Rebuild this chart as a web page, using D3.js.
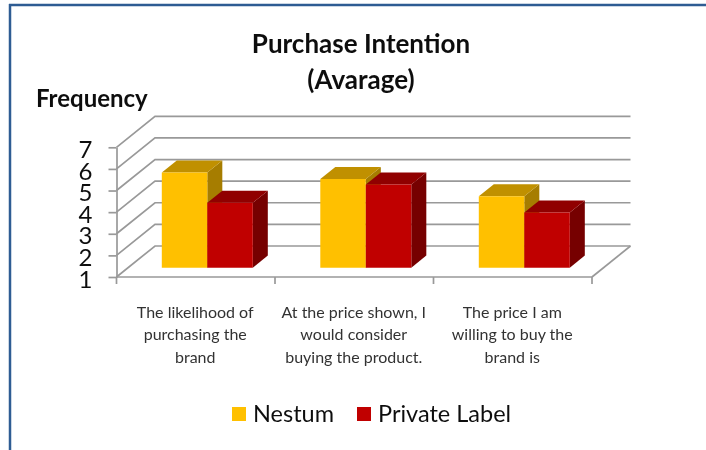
<!DOCTYPE html>
<html>
<head>
<meta charset="utf-8">
<script src="https://cdn.jsdelivr.net/npm/d3@7"></script>
<style>
  html, body { margin: 0; padding: 0; background: white; }
  text { font-family: Lato, "Open Sans", sans-serif; }
</style>
</head>
<body>
<div id="chart"></div>
<script>
// chart data
const categories = ["likelihood", "shown", "willing"];
const category_labels = [
    ["The likelihood of", "purchasing the", "brand"],
    ["At the price shown, I", "would consider", "buying the product."],
    ["The price I am", "willing to buy the", "brand is"]
];
const series_names = ["Nestum", "Private Label"];
const nestum_values = [5.4, 5.1, 4.3];
const private_label_values = [4.0, 4.85, 3.55];
const y_ticks = [1, 2, 3, 4, 5, 6, 7];

const series_values = [nestum_values, private_label_values];
const front_colors = ["#ffc000", "#c00000"];
const top_colors = ["#c09000", "#900000"];
const side_colors = ["#a67d00", "#760000"];

const width = 706;
const height = 450;

const svg = d3.select("#chart")
    .append("svg")
    .attr("width", width)
    .attr("height", height)
    .style("display", "block");

// the source picture is a soft scan, a small blur gets the same look
svg.append("defs").append("filter")
    .attr("id", "soft")
    .attr("x", 0).attr("y", 0).attr("width", 1).attr("height", 1)
    .attr("filterUnits", "objectBoundingBox")
    .append("feGaussianBlur")
    .attr("stdDeviation", 0.5);

const root = svg.append("g").attr("filter", "url(#soft)");

// keeps the filter region on the full picture
root.append("rect")
    .attr("width", width).attr("height", height)
    .attr("fill", "white");

// scales for the front plane of the 3d box
const x = d3.scaleBand()
    .domain(categories)
    .range([116.5, 592]);

const y = d3.scaleLinear()
    .domain([1, 7])
    .range([277, 147.3]);

// depth runs from front (0) to back wall (1)
const depth_x = d3.scaleLinear().domain([0, 1]).range([0, 38.5]);
const depth_y = d3.scaleLinear().domain([0, 1]).range([0, -31]);

const bar_x = d3.scaleBand()
    .domain(d3.range(series_names.length))
    .range([-45.5, 45.5]);

const project = (px, value, depth) => [px + depth_x(depth), y(value) + depth_y(depth)];
const poly = points => d3.line()(points) + "Z";

// frame around the slide
root.append("line")
    .attr("x1", 10).attr("x2", 10)
    .attr("y1", 4).attr("y2", height)
    .attr("stroke", "#2f5b93").attr("stroke-width", 2.5);
root.append("line")
    .attr("x1", 9).attr("x2", width)
    .attr("y1", 5).attr("y2", 5)
    .attr("stroke", "#2f5b93").attr("stroke-width", 2.5);

// gridlines on the side wall and the back wall
const grid_color = "#999999";
const grid = root.append("g").attr("fill", "none").attr("stroke", grid_color).attr("stroke-width", 1.7);
y_ticks.forEach(tick => {
    grid.append("path").attr("d", d3.line()([
        project(x.range()[0], tick, 0),
        project(x.range()[0], tick, 1),
        project(x.range()[1], tick, 1)
    ]));
});
// floor edge on the right
grid.append("path").attr("d", d3.line()([
    project(x.range()[1], 1, 0),
    project(x.range()[1], 1, 1)
]));

// y-axis
const y_axis = root.append("g")
    .attr("transform", "translate(" + x.range()[0] + ",0)")
    .call(d3.axisLeft(y).tickValues(y_ticks).tickSize(8).tickSizeOuter(0).tickPadding(16).tickFormat(d3.format("d")));
y_axis.selectAll("line").attr("stroke", grid_color).attr("stroke-width", 1.7);
y_axis.select(".domain").attr("stroke", grid_color).attr("stroke-width", 1.7);
y_axis.selectAll("text")
    .attr("font-size", 24)
    .attr("fill", "#111")
    .attr("dy", "0.42em")
    .style("font-family", "Lato");

// x-axis, ticks sit on the band edges
const x_axis = root.append("g").attr("stroke", grid_color).attr("stroke-width", 1.7);
x_axis.append("line")
    .attr("x1", x.range()[0]).attr("x2", x.range()[1])
    .attr("y1", y(1)).attr("y2", y(1));
[...categories.map(c => x(c)), x.range()[1]].forEach(px => {
    x_axis.append("line")
        .attr("x1", px).attr("x2", px)
        .attr("y1", y(1)).attr("y2", y(1) + 7);
});

// bars: 3 faces each, back to front
const bar_front = 0.3;
const bar_back = 0.69;
categories.forEach((c, i) => {
    const center = x(c) + x.bandwidth() / 2;
    series_names.forEach((s, j) => {
        const x0 = center + bar_x(j);
        const x1 = x0 + bar_x.bandwidth();
        const v = series_values[j][i];
        const bar = root.append("g").attr("class", "bar");
        bar.append("path")
            .attr("fill", side_colors[j])
            .attr("d", poly([
                project(x1, 1, bar_front), project(x1, 1, bar_back),
                project(x1, v, bar_back), project(x1, v, bar_front)
            ]));
        bar.append("path")
            .attr("fill", top_colors[j])
            .attr("d", poly([
                project(x0, v, bar_front), project(x0, v, bar_back),
                project(x1, v, bar_back), project(x1, v, bar_front)
            ]));
        bar.append("path")
            .attr("fill", front_colors[j])
            .attr("d", poly([
                project(x0, 1, bar_front), project(x1, 1, bar_front),
                project(x1, v, bar_front), project(x0, v, bar_front)
            ]));
    });
});

// category labels
categories.forEach((c, i) => {
    const label = root.append("text")
        .attr("text-anchor", "middle")
        .attr("font-size", 16)
        .attr("fill", "#333");
    category_labels[i].forEach((line, k) => {
        label.append("tspan")
            .attr("x", x(c) + x.bandwidth() / 2 - 0.5)
            .attr("y", 318 + k * 22.4)
            .text(line);
    });
});

// titles
root.append("text")
    .attr("x", 361).attr("y", 53)
    .attr("text-anchor", "middle")
    .attr("font-size", 26).attr("font-weight", 700).attr("fill", "#111")
    .text("Purchase Intention");
root.append("text")
    .attr("x", 361).attr("y", 89)
    .attr("text-anchor", "middle")
    .attr("font-size", 26).attr("font-weight", 700).attr("fill", "#111")
    .text("(Avarage)");
root.append("text")
    .attr("x", 36).attr("y", 107)
    .attr("font-size", 24).attr("font-weight", 700).attr("fill", "#111")
    .text("Frequency");

// legend
const legend_x = [232, 357];
series_names.forEach((name, j) => {
    root.append("rect")
        .attr("x", legend_x[j]).attr("y", 407)
        .attr("width", 14).attr("height", 14)
        .attr("fill", front_colors[j]);
    root.append("text")
        .attr("x", legend_x[j] + 21).attr("y", 422)
        .attr("font-size", 23.5).attr("fill", "#111")
        .text(name);
});
</script>
</body>
</html>
